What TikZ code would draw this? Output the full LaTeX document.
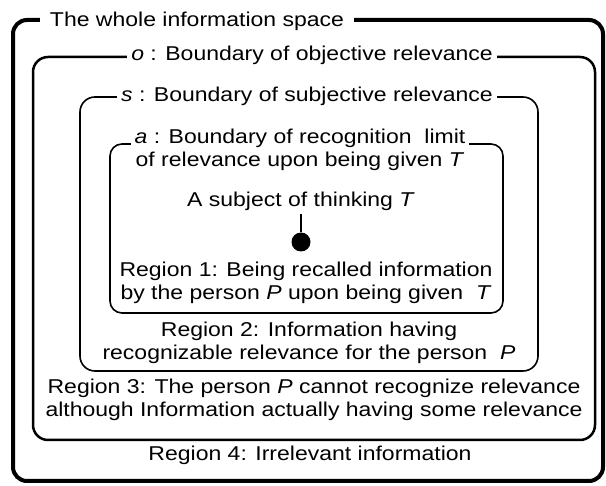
\documentclass[tikz,border=0pt]{standalone}
\usepackage{fontspec}
\setmainfont[FakeStretch=1.15]{Liberation Sans}
\usetikzlibrary{positioning}

\begin{document}
\begin{tikzpicture}[x=0.5pt, y=-0.5pt,
    every node/.style={font=\fontsize{10}{11.5}\selectfont, align=center},
    title/.style={fill=white, inner xsep=2pt, inner ysep=1pt, anchor=base},
    region/.style={anchor=base, inner sep=0pt}]

    \useasboundingbox (0,0) rectangle (606,486);

    % Draw the nested boundaries
    \draw[line width=2pt, rounded corners=7pt] (13,20) rectangle (603,481); % whole space
    \draw[line width=1.25pt, rounded corners=7.5pt] (33,57) rectangle (595,440); % o
    \draw[line width=0.8pt, rounded corners=7.5pt] (80,97) rectangle (538,371); % s
    \draw[line width=0.8pt, rounded corners=6pt] (110,144) rectangle (503,313); % a

    % Titles of the boundaries (base is the last line)
    \node[title, inner xsep=5pt] (whole) at (197,27) {The whole information space};
    \node[title] (obj) at (312,61) {\textit{o} : Boundary of objective relevance};
    \node[title] (subj) at (307,102) {\textit{s} : Boundary of subjective relevance};
    \node[title] (recog) at (300,167) {\textit{a} : Boundary of recognition~ limit\\of relevance upon being given \textit{T}};

    % The subject of thinking and its point
    \node[region, inner sep=1pt] (subject) at (301,207) {A subject of thinking \textit{T}};
    \node[circle, fill, minimum size=9.5pt, inner sep=0pt] (dot) at (301,242) {};
    \draw[line width=0.7pt] (subject) -- (dot);

    % Labels of the regions
    \node[region] (reg1) at (306,300) {Region 1: Being recalled information\\by the person \textit{P} upon being given~ \textit{T}};
    \node[region] (reg2) at (309,360) {Region 2: Information having\\recognizable relevance for the person~ \textit{P}};
    \node[region] (reg3) at (314,417) {Region 3: The person \textit{P} cannot recognize relevance\\although Information actually having some relevance};
    \node[region] (reg4) at (310,461) {Region 4: Irrelevant information};
\end{tikzpicture}
\end{document}
